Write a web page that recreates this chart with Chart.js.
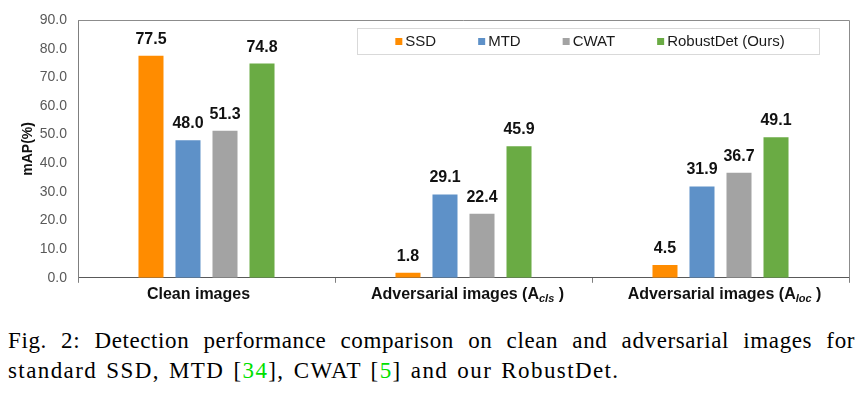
<!DOCTYPE html>
<html><head><meta charset="utf-8">
<script src="https://cdn.jsdelivr.net/npm/chart.js@4.4.0/dist/chart.umd.min.js"></script>
<style>
html,body{margin:0;padding:0;background:#fff;width:865px;height:396px;overflow:hidden;}
#wrap{position:absolute;left:0;top:0;width:865px;height:310px;}
.cap{position:absolute;left:8px;width:847px;font-family:"Liberation Serif","Times New Roman",serif;font-size:23px;color:#000;line-height:27px;}
#l1{top:327px;text-align:justify;text-align-last:justify;letter-spacing:0.6px;}
#l2{top:357px;white-space:nowrap;letter-spacing:1.4px;word-spacing:2px;}
.ref{color:#00e000;}
</style></head><body>
<div id="wrap"><canvas id="c" width="865" height="310"></canvas></div>
<div class="cap" id="l1">Fig. 2: Detection performance comparison on clean and adversarial images for</div>
<div class="cap" id="l2">standard SSD, MTD [<span class="ref">34</span>], CWAT [<span class="ref">5</span>] and our RobustDet.</div>
<script>
const categories = ['Clean images', 'Adversarial images (A_cls)', 'Adversarial images (A_loc)'];
const seriesNames = ['SSD', 'MTD', 'CWAT', 'RobustDet (Ours)'];
const ssdValues = [77.5, 1.8, 4.5];
const mtdValues = [48.0, 29.1, 31.9];
const cwatValues = [51.3, 22.4, 36.7];
const robustDetValues = [74.8, 45.9, 49.1];
const yTickValues = [0, 10, 20, 30, 40, 50, 60, 70, 80, 90];
const seriesColors = ['#FF8C00', '#5E91C8', '#A3A3A3', '#6AAB44'];

const FONT = '"Liberation Sans", Arial, sans-serif';

const framePlugin = {
  id: 'frame',
  afterDraw(chart) {
    const {ctx, chartArea: a} = chart;
    ctx.save();
    ctx.strokeStyle = '#8c8c8c';
    ctx.lineWidth = 1;
    ctx.beginPath();
    ctx.moveTo(a.left, a.top + 0.5);
    ctx.lineTo(a.right + 0.5, a.top + 0.5);
    ctx.lineTo(a.right + 0.5, a.bottom);
    ctx.stroke();
    ctx.restore();
  }
};

const valueLabelPlugin = {
  id: 'valueLabels',
  afterDatasetsDraw(chart) {
    const ctx = chart.ctx;
    ctx.save();
    ctx.font = 'bold 16px ' + FONT;
    ctx.fillStyle = '#111';
    ctx.textAlign = 'center';
    ctx.textBaseline = 'alphabetic';
    chart.data.datasets.forEach((ds, di) => {
      chart.getDatasetMeta(di).data.forEach((bar, i) => {
        ctx.fillText(ds.data[i].toFixed(1), bar.x, bar.y - 12);
      });
    });
    ctx.restore();
  }
};

const xLabelPlugin = {
  id: 'xLabels',
  afterDraw(chart) {
    const ctx = chart.ctx;
    const xs = chart.scales.x;
    const y = xs.top + 5 + 2 + 10;
    ctx.save();
    ctx.fillStyle = '#111';
    ctx.textBaseline = 'middle';
    categories.forEach((label, i) => {
      const cx = xs.getPixelForValue(i) - 4;
      const m = label.match(/^(.*)_(\w+)\)$/);
      const mainFont = 'bold 16px ' + FONT;
      const subFont = 'bold italic 11px ' + FONT;
      if (!m) {
        ctx.font = mainFont;
        ctx.textAlign = 'center';
        ctx.fillText(label, cx - 4, y);
        return;
      }
      ctx.font = mainFont;
      const w1 = ctx.measureText(m[1]).width;
      const w3 = ctx.measureText(' )').width;
      ctx.font = subFont;
      const w2 = ctx.measureText(m[2]).width;
      let x = cx + 8 - (w1 + w2 + w3) / 2;
      ctx.textAlign = 'left';
      ctx.font = mainFont;
      ctx.fillText(m[1], x, y);
      x += w1;
      ctx.font = subFont;
      ctx.fillText(m[2], x, y + 4);
      x += w2;
      ctx.font = mainFont;
      ctx.fillText(' )', x, y);
    });
    ctx.restore();
  }
};

const legendPlugin = {
  id: 'boxLegend',
  afterDraw(chart) {
    const ctx = chart.ctx;
    const a = chart.chartArea;
    const bx = a.left + 279, by = a.top + 8, bw = 462, bh = 26;
    ctx.save();
    ctx.fillStyle = '#fff';
    ctx.fillRect(bx, by, bw, bh);
    ctx.strokeStyle = '#d9d9d9';
    ctx.lineWidth = 1;
    ctx.strokeRect(bx + 0.5, by + 0.5, bw, bh);
    ctx.font = '15px ' + FONT;
    const gap = 42, mk = 7, mg = 3;
    const items = chart.data.datasets.map(ds => ({label: ds.label, color: ds.backgroundColor, w: mk + mg + ctx.measureText(ds.label).width}));
    const total = items.reduce((s, it) => s + it.w, 0) + gap * (items.length - 1);
    let x = bx + (bw - total) / 2 + 2;
    const cy = by + bh / 2 + 0.5;
    ctx.textBaseline = 'middle';
    ctx.textAlign = 'left';
    items.forEach(it => {
      ctx.fillStyle = it.color;
      ctx.fillRect(x, cy - 3.5, mk, mk);
      ctx.fillStyle = '#1a1a1a';
      ctx.fillText(it.label, x + mk + mg, cy + 0.5);
      x += it.w + gap;
    });
    ctx.restore();
  }
};

const seriesValues = [ssdValues, mtdValues, cwatValues, robustDetValues];

new Chart(document.getElementById('c'), {
  type: 'bar',
  data: {
    labels: categories,
    datasets: seriesNames.map((name, i) => ({
      label: name,
      data: seriesValues[i],
      backgroundColor: seriesColors[i],
      borderWidth: 0,
      categoryPercentage: 0.576,
      barPercentage: 0.676
    }))
  },
  options: {
    responsive: false,
    animation: false,
    layout: {padding: {left: 0, right: 16, top: 20, bottom: 4}},
    plugins: {legend: {display: false}, tooltip: {enabled: false}},
    scales: {
      x: {
        grid: {display: true, drawOnChartArea: false, drawTicks: true, tickLength: 5, offset: true, color: '#7f7f7f'},
        border: {display: true, color: '#595959', width: 1},
        ticks: {color: 'rgba(0,0,0,0)', font: {family: FONT, size: 16, weight: 'bold'}, padding: 2, maxRotation: 0, autoSkip: false}
      },
      y: {
        min: 0, max: 90,
        afterBuildTicks(scale) { scale.ticks = yTickValues.map(v => ({value: v})); },
        afterFit(scale) { scale.width = 78; },
        grid: {display: false, drawTicks: false},
        border: {display: true, color: '#7f7f7f', width: 1},
        ticks: {color: '#595959', font: {family: FONT, size: 14}, padding: 11, callback: v => Number(v).toFixed(1)},
        title: {display: true, text: 'mAP(%)', color: '#111', font: {family: FONT, size: 14, weight: 'bold'}, padding: {top: 20, bottom: 0}}
      }
    }
  },
  plugins: [framePlugin, valueLabelPlugin, xLabelPlugin, legendPlugin]
});
</script>
</body></html>
